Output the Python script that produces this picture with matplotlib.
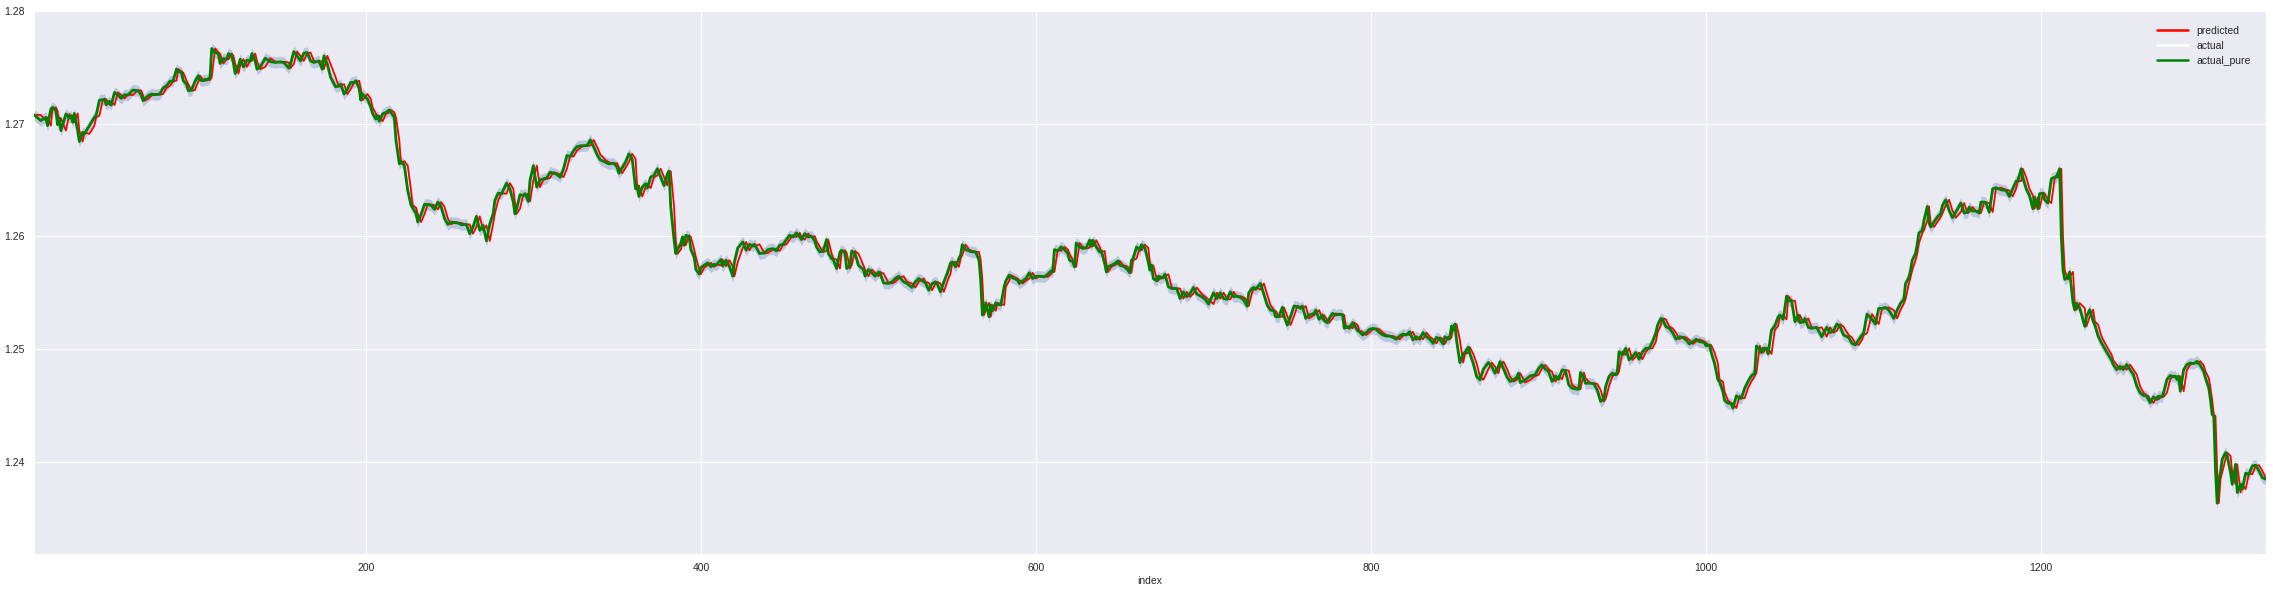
import matplotlib
matplotlib.use("Agg")
import matplotlib.pyplot as plt
import seaborn as sns

# index / actual_pure values
index = [
    2, 6, 9, 10, 12, 13, 15, 16, 17, 18, 21, 23, 24, 25, 26, 28, 29, 31, 32, 35,
    38, 39, 41, 43, 44, 45, 47, 48, 50, 52, 54, 56, 58, 61, 64, 66, 67, 68, 70, 72,
    74, 77, 79, 81, 83, 85, 87, 88, 90, 91, 93, 94, 96, 98, 100, 101, 103, 104, 105, 107,
    108, 110, 112, 113, 115, 117, 118, 120, 121, 122, 124, 125, 127, 129, 131, 132, 134, 135, 137, 140,
    143, 146, 149, 151, 154, 155, 157, 159, 161, 163, 165, 167, 169, 172, 174, 175, 177, 179,
    182, 184, 185, 187, 189, 191, 193, 194, 196, 197, 198, 201, 203, 204, 206, 207, 208, 210,
    212, 214, 215, 217, 218, 220, 221, 223, 225, 227, 228, 230, 231, 233, 235, 237, 239, 241,
    243, 245, 247, 249, 251, 253, 255, 257, 260, 262, 264, 266, 268, 270, 272, 274, 276, 277,
    279, 281, 284, 286, 288, 289, 290, 292, 294, 295, 297, 298, 300, 302, 304, 306, 308, 310,
    312, 314, 316, 318, 320, 322, 324, 326, 329, 332, 334, 336, 338, 340, 343, 345,
    348, 350, 351, 353, 355, 357, 359, 361, 362, 363, 365, 367, 368, 370, 372, 374, 376, 378,
    380, 381, 382, 384, 385, 386, 388, 389, 390, 391, 393, 394, 396, 397, 399, 400, 402, 404,
    406, 408, 409, 412, 413, 415, 417, 419, 420, 422, 425, 427, 429, 431, 432, 435, 438, 440,
    443, 445, 447, 449, 451, 453, 455, 457, 459, 460, 462, 464, 466, 468, 469, 471, 473, 475,
    476, 478, 479, 481, 483, 484, 486, 487, 489, 490, 492, 494, 497, 498, 500, 502, 504, 506,
    507, 509, 512, 514, 516, 518,
    521, 523, 526, 528, 530, 533, 534, 536, 538, 540, 541, 543, 545, 547, 549, 550, 552, 554,
    555, 556, 558, 560, 562, 564, 566, 567, 568, 569, 570, 572, 573, 574, 576, 577, 579, 581,
    582, 584, 585, 587, 589, 590, 592, 594, 596, 598, 600, 602, 605, 607, 609, 610, 611, 613,
    615, 617, 619, 620, 622, 623, 624, 626, 628, 630, 632, 633, 634, 636, 638, 639, 641, 642,
    643, 645, 647, 649, 650, 652, 654, 656, 657, 658, 660, 662, 663, 665, 667, 668, 669, 670,
    672, 673, 674, 676, 677, 679, 681, 682, 684, 686, 688, 690,
    692, 694, 696, 699, 701, 703, 706, 708, 710, 712, 714, 716, 718, 720, 722, 724, 726, 727,
    729, 730, 731, 734, 736, 738, 740, 742, 743, 745, 747, 748, 750, 752, 754, 756, 758, 759,
    761, 763, 766, 767, 769, 771, 772, 774, 775, 777, 779, 781, 783, 784, 785, 787, 789, 790,
    792, 793, 795, 797, 799, 801, 803, 805, 807, 809, 811, 813, 815, 817, 819, 821, 823, 825,
    827, 829, 831, 833, 835, 837, 839, 841, 843, 844, 846, 847, 848, 849, 850, 851, 853, 855,
    856, 858, 859, 861, 863,
    865, 867, 870, 872, 874, 876, 877, 879, 881, 883, 885, 887, 888, 889, 892, 895, 898, 900,
    902, 904, 906, 908, 910, 912, 914, 916, 918, 920, 923, 924, 925, 927, 928, 931, 933, 935,
    937, 939, 940, 942, 944, 946, 947, 948, 950, 952, 954, 956, 958, 960, 962, 964, 966, 968,
    970, 971, 973, 974, 976, 978, 980, 982, 984, 986, 988, 990, 992, 994, 996, 999, 1000, 1002,
    1003, 1005, 1007, 1008, 1010, 1011, 1013, 1015, 1016, 1018, 1020, 1021, 1023, 1025, 1027, 1029, 1030, 1032,
    1033, 1034, 1036, 1037,
    1039, 1041, 1043, 1044, 1046, 1048, 1049, 1051, 1053, 1055, 1056, 1058, 1059, 1061, 1063, 1066, 1069, 1072,
    1074, 1076, 1078, 1080, 1082, 1085, 1087, 1089, 1091, 1093, 1094, 1096, 1099, 1101, 1103, 1105, 1107, 1109,
    1112, 1114, 1116, 1118, 1119, 1121, 1122, 1123, 1125, 1126, 1127, 1129, 1130, 1132, 1133, 1134, 1136, 1138,
    1140, 1141, 1143, 1145, 1147, 1149, 1152, 1154, 1156, 1157, 1159, 1161, 1163, 1164, 1166, 1167, 1169, 1171,
    1173, 1176, 1179, 1181, 1183, 1185, 1186, 1188, 1189, 1191, 1193, 1195, 1196, 1198, 1199, 1201, 1202, 1204,
    1206, 1208, 1209, 1211, 1212, 1213, 1214, 1216, 1217,
    1219, 1220, 1221, 1223, 1226, 1227, 1229, 1231, 1232, 1234, 1236, 1238, 1240, 1242, 1243, 1245, 1247, 1249,
    1251, 1253, 1255, 1257, 1259, 1261, 1263, 1264, 1265, 1267, 1269, 1270, 1272, 1273, 1275, 1277, 1279, 1280,
    1281, 1282, 1283, 1285, 1287, 1289, 1291, 1293, 1295, 1297, 1298, 1300, 1301, 1302, 1303, 1304, 1305, 1306,
    1307, 1308, 1310, 1311, 1313, 1314, 1316, 1317, 1319, 1320, 1322, 1324, 1326, 1328, 1330, 1332, 1334,
]

actual_pure = [
    1.27077, 1.27027, 1.27056, 1.26982, 1.27130, 1.27145, 1.27115, 1.26991, 1.27050, 1.26938,
    1.27086, 1.27050, 1.27071, 1.27012, 1.27091, 1.26938, 1.26841, 1.26923, 1.26909, 1.26982,
    1.27056, 1.27071, 1.27209, 1.27212, 1.27218, 1.27168, 1.27198, 1.27165, 1.27277, 1.27254,
    1.27224, 1.27257, 1.27254, 1.27298, 1.27292, 1.27254, 1.27204, 1.27218, 1.27248, 1.27263,
    1.27257, 1.27263, 1.27316, 1.27336, 1.27375, 1.27381, 1.27484, 1.27463, 1.27454, 1.27381,
    1.27351, 1.27292, 1.27298, 1.27375, 1.27425, 1.27386, 1.27381, 1.27395, 1.27386, 1.27410,
    1.27667, 1.27631, 1.27622, 1.27534, 1.27578, 1.27572, 1.27622, 1.27601, 1.27534, 1.27445,
    1.27513, 1.27572, 1.27504, 1.27563, 1.27557, 1.27622, 1.27557, 1.27484, 1.27504, 1.27581,
    1.27551, 1.27543, 1.27549, 1.27543, 1.27493, 1.27528, 1.27640, 1.27601, 1.27557, 1.27625,
    1.27631, 1.27557, 1.27543, 1.27557, 1.27484, 1.27602, 1.27528, 1.27410,
    1.27327, 1.27336, 1.27351, 1.27263, 1.27307, 1.27366, 1.27366, 1.27381, 1.27316, 1.27209,
    1.27263, 1.27218, 1.27145, 1.27091, 1.27041, 1.27071, 1.27021, 1.27086, 1.27100, 1.27121,
    1.27100, 1.27056, 1.26850, 1.26643, 1.26667, 1.26628, 1.26407, 1.26274, 1.26254, 1.26200,
    1.26127, 1.26195, 1.26283, 1.26283, 1.26274, 1.26239, 1.26304, 1.26260, 1.26156, 1.26106,
    1.26127, 1.26121, 1.26118, 1.26103, 1.26106, 1.26024, 1.26083, 1.26177, 1.26053, 1.26097,
    1.25959, 1.26112, 1.26200, 1.26319, 1.26383, 1.26378, 1.26472, 1.26422, 1.26304, 1.26200,
    1.26245, 1.26369, 1.26363, 1.26378, 1.26310, 1.26496, 1.26628, 1.26437, 1.26501, 1.26510,
    1.26519, 1.26569, 1.26560, 1.26549, 1.26525, 1.26599, 1.26717, 1.26708, 1.26761, 1.26796,
    1.26805, 1.26805, 1.26855, 1.26796, 1.26726, 1.26678, 1.26658, 1.26643,
    1.26649, 1.26614, 1.26560, 1.26608, 1.26658, 1.26732, 1.26687, 1.26422, 1.26451, 1.26354,
    1.26437, 1.26466, 1.26428, 1.26525, 1.26540, 1.26599, 1.26525, 1.26451, 1.26555, 1.26578,
    1.26260, 1.25965, 1.25847, 1.25882, 1.25935, 1.25994, 1.25921, 1.26009, 1.25994, 1.25882,
    1.25817, 1.25705, 1.25664, 1.25723, 1.25743, 1.25764, 1.25729, 1.25752, 1.25743, 1.25794,
    1.25735, 1.25788, 1.25735, 1.25646, 1.25773, 1.25897, 1.25950, 1.25876, 1.25929, 1.25912,
    1.25929, 1.25847, 1.25853, 1.25882, 1.25891, 1.25870, 1.25921, 1.25929, 1.25971, 1.26009,
    1.25994, 1.26030, 1.25994, 1.25971, 1.26024, 1.25994, 1.26000, 1.25959, 1.25906, 1.25861,
    1.25870, 1.25971, 1.25847, 1.25803, 1.25794, 1.25714, 1.25861, 1.25876, 1.25853, 1.25714,
    1.25743, 1.25870, 1.25847, 1.25743, 1.25705, 1.25646, 1.25705, 1.25676, 1.25646, 1.25684,
    1.25670, 1.25587, 1.25581, 1.25596, 1.25625, 1.25646,
    1.25596, 1.25581, 1.25546, 1.25596, 1.25625, 1.25596, 1.25587, 1.25522, 1.25581, 1.25596,
    1.25581, 1.25507, 1.25596, 1.25670, 1.25764, 1.25773, 1.25729, 1.25802, 1.25832, 1.25926,
    1.25882, 1.25870, 1.25861, 1.25861, 1.25788, 1.25611, 1.25301, 1.25345, 1.25410, 1.25286,
    1.25390, 1.25339, 1.25410, 1.25398, 1.25390, 1.25552, 1.25605, 1.25655, 1.25640, 1.25625,
    1.25611, 1.25581, 1.25605, 1.25625, 1.25676, 1.25625, 1.25646, 1.25646, 1.25640, 1.25664,
    1.25693, 1.25684, 1.25882, 1.25870, 1.25906, 1.25882, 1.25847, 1.25788, 1.25773, 1.25729,
    1.25941, 1.25906, 1.25891, 1.25900, 1.25965, 1.25912, 1.25965, 1.25906, 1.25861, 1.25870,
    1.25758, 1.25684, 1.25729, 1.25743, 1.25758, 1.25782, 1.25743, 1.25735, 1.25714, 1.25676,
    1.25788, 1.25802, 1.25906, 1.25876, 1.25926, 1.25897, 1.25773, 1.25699, 1.25743, 1.25625,
    1.25605, 1.25646, 1.25625, 1.25640, 1.25664, 1.25552, 1.25537, 1.25537, 1.25537, 1.25448,
    1.25507, 1.25463,
    1.25493, 1.25546, 1.25487, 1.25463, 1.25440, 1.25398, 1.25499, 1.25448, 1.25499, 1.25448,
    1.25440, 1.25507, 1.25463, 1.25469, 1.25457, 1.25434, 1.25381, 1.25499, 1.25537, 1.25546,
    1.25528, 1.25581, 1.25487, 1.25390, 1.25345, 1.25339, 1.25286, 1.25286, 1.25369, 1.25292,
    1.25212, 1.25292, 1.25381, 1.25375, 1.25360, 1.25381, 1.25271, 1.25301, 1.25316, 1.25345,
    1.25263, 1.25301, 1.25251, 1.25233, 1.25271, 1.25316, 1.25301, 1.25310, 1.25301, 1.25183,
    1.25204, 1.25183, 1.25233, 1.25212, 1.25162, 1.25153, 1.25124, 1.25145, 1.25174, 1.25183,
    1.25174, 1.25145, 1.25124, 1.25115, 1.25115, 1.25103, 1.25086, 1.25115, 1.25133, 1.25124,
    1.25153, 1.25080, 1.25109, 1.25086, 1.25145, 1.25109, 1.25086, 1.25050, 1.25103, 1.25086,
    1.25044, 1.25109, 1.25086, 1.25103, 1.25204, 1.25168, 1.25221, 1.25080, 1.24879, 1.24956,
    1.24968, 1.25015, 1.24956, 1.24873, 1.24755,
    1.24726, 1.24820, 1.24879, 1.24844, 1.24785, 1.24844, 1.24888, 1.24829, 1.24755, 1.24711,
    1.24726, 1.24749, 1.24785, 1.24702, 1.24726, 1.24761, 1.24770, 1.24829, 1.24858, 1.24820,
    1.24799, 1.24711, 1.24761, 1.24732, 1.24814, 1.24808, 1.24681, 1.24652, 1.24643, 1.24643,
    1.24791, 1.24740, 1.24696, 1.24696, 1.24690, 1.24637, 1.24534, 1.24555, 1.24667, 1.24755,
    1.24785, 1.24770, 1.24799, 1.24976, 1.24947, 1.25006, 1.24903, 1.24932, 1.24968, 1.24909,
    1.24976, 1.25006, 1.25006, 1.25065, 1.25145, 1.25212, 1.25271, 1.25263, 1.25198, 1.25183,
    1.25145, 1.25086, 1.25109, 1.25103, 1.25080, 1.25044, 1.25065, 1.25086, 1.25065, 1.25056,
    1.25027, 1.25035, 1.24968, 1.24873, 1.24726, 1.24711, 1.24622, 1.24543, 1.24519, 1.24513,
    1.24475, 1.24584, 1.24563, 1.24563, 1.24652, 1.24711, 1.24761, 1.24785, 1.25027, 1.24997,
    1.24968, 1.25006, 1.25006, 1.24956,
    1.25168, 1.25204, 1.25286, 1.25301, 1.25263, 1.25469, 1.25428, 1.25428, 1.25242, 1.25301,
    1.25233, 1.25242, 1.25271, 1.25192, 1.25183, 1.25192, 1.25109, 1.25192, 1.25145, 1.25162,
    1.25221, 1.25198, 1.25124, 1.25103, 1.25050, 1.25035, 1.25080, 1.25124, 1.25139, 1.25310,
    1.25263, 1.25221, 1.25360, 1.25360, 1.25369, 1.25345, 1.25271, 1.25345, 1.25404, 1.25440,
    1.25581, 1.25634, 1.25699, 1.25788, 1.25847, 1.25935, 1.26030, 1.26053, 1.26142, 1.26265,
    1.26118, 1.26083, 1.26127, 1.26171, 1.26201, 1.26274, 1.26324, 1.26230, 1.26165, 1.26215,
    1.26295, 1.26206, 1.26215, 1.26260, 1.26224, 1.26224, 1.26206, 1.26304, 1.26304, 1.26295,
    1.26215, 1.26422, 1.26431, 1.26413, 1.26407, 1.26354, 1.26422, 1.26490, 1.26490, 1.26599,
    1.26525, 1.26422, 1.26363, 1.26245, 1.26348, 1.26245, 1.26378, 1.26383, 1.26324, 1.26295,
    1.26510, 1.26525, 1.26525, 1.26599, 1.25994, 1.25699, 1.25617, 1.25640, 1.25684,
    1.25407, 1.25348, 1.25407, 1.25363, 1.25201, 1.25289, 1.25348, 1.25245, 1.25215, 1.25112,
    1.25053, 1.25000, 1.24950, 1.24900, 1.24861, 1.24817, 1.24847, 1.24817, 1.24861, 1.24817,
    1.24773, 1.24670, 1.24611, 1.24587, 1.24581, 1.24552, 1.24522, 1.24575, 1.24552, 1.24581,
    1.24575, 1.24611, 1.24729, 1.24764, 1.24752, 1.24758, 1.24729, 1.24758, 1.24625, 1.24817,
    1.24861, 1.24876, 1.24870, 1.24891, 1.24853, 1.24802, 1.24743, 1.24655, 1.24552, 1.24419,
    1.24404, 1.23932, 1.23631, 1.23844, 1.23903, 1.24021, 1.24080, 1.24050, 1.23903, 1.23799,
    1.23976, 1.23726, 1.23799, 1.23755, 1.23897, 1.23888, 1.23962, 1.23968, 1.23917, 1.23858,
    1.23844,
]

# prediction trails the pure series by one reading
predicted = actual_pure[:1] + actual_pure[:-1]
actual = actual_pure

band = 0.0005  # half width of the pale band around actual

sns.set_style("darkgrid")
plt.rcParams["font.family"] = ["Liberation Sans", "DejaVu Sans"]

fig = plt.figure(figsize=(22.73, 5.91), dpi=100)
ax = fig.add_axes([0.015, 0.0626, 0.9818, 0.9188])

lo = [v - band for v in actual]
hi = [v + band for v in actual]
ax.fill_between(index, lo, hi, color="#4c72b0", alpha=0.3, linewidth=0, zorder=1)
ax.plot(index, predicted, color="red", lw=1.3, label="predicted", zorder=2)
ax.plot(index, actual, color="white", lw=0.6, label="actual", zorder=1.5)
ax.plot(index, actual_pure, color="green", lw=2.0, label="actual_pure", zorder=3)

ax.set_xlim(index[0], index[-1])
ax.set_ylim(1.2318, 1.2800)
ax.set_xticks([200, 400, 600, 800, 1000, 1200])
ax.set_yticks([1.24, 1.25, 1.26, 1.27, 1.28])
ax.tick_params(labelsize=7.5, pad=3, colors=".15")
ax.set_xlabel("index", fontsize=7.5, labelpad=2)

leg = ax.legend(loc="upper right", fontsize=7.5, frameon=False,
                handlelength=3, borderaxespad=1.0)
for h in leg.get_lines():
    h.set_linewidth(1.8)

fig.savefig("out.png", dpi=100)
